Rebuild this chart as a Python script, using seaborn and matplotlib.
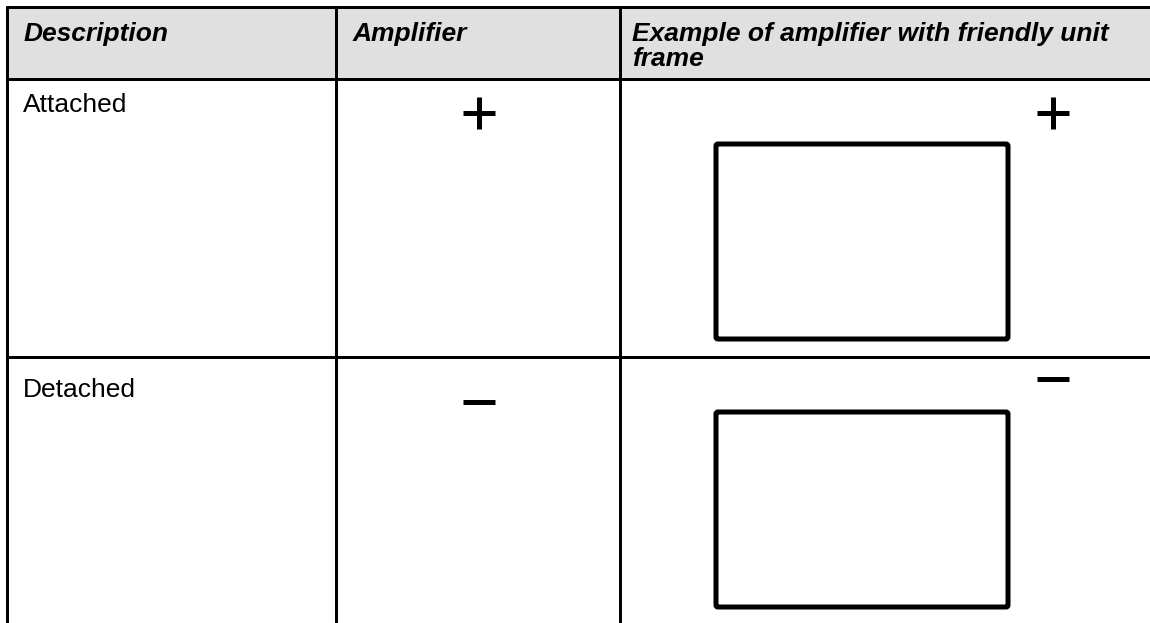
import matplotlib
matplotlib.use("Agg")
import matplotlib.pyplot as plt
import matplotlib.patches as mpatches
import seaborn as sns

# table content
headers = ["Description", "Amplifier", "Example of amplifier with friendly unit\nframe"]
descriptions = ["Attached", "Detached"]
amplifiers = ["+", "-"]

W, H = 1150, 623
col_x = [7, 336, 620]
row_y = [7, 79, 357]
header_bg = "#e0e0e0"

sns.set_theme(style="white")
plt.rcParams["font.family"] = ["Liberation Sans", "DejaVu Sans"]

fig = plt.figure(figsize=(W / 100, H / 100), dpi=100)
ax = fig.add_axes([0, 0, 1, 1])
ax.set_xlim(0, W)
ax.set_ylim(H, 0)
ax.axis("off")

px = 0.72  # pixel -> points at 100 dpi

# header background
ax.add_patch(mpatches.Rectangle((col_x[0], row_y[0]), W - col_x[0], row_y[1] - row_y[0],
                                facecolor=header_bg, edgecolor="none", zorder=0))

# grid lines (table runs off the right and bottom edges)
for x in col_x:
    ax.plot([x, x], [row_y[0] - 1.5, H], color="black", lw=3 * px, solid_capstyle="butt")
for y in row_y:
    ax.plot([col_x[0] - 1.5, W], [y, y], color="black", lw=3 * px, solid_capstyle="butt")

# header text
pad = [17, 17, 12]
for x, p, txt in zip(col_x, pad, headers):
    ax.text(x + p, row_y[0] + 15, txt, fontsize=19, fontweight="bold", fontstyle="italic",
            va="top", ha="left", color="black", linespacing=1.05)

# descriptions
desc_base = [33, 40]
for y, b, txt in zip(row_y[1:], desc_base, descriptions):
    ax.text(col_x[0] + 16, y + b, txt, fontsize=19, va="baseline", ha="left", color="black")


def draw_sign(cx, cy, sign, half=16, lw=5):
    ax.plot([cx - half, cx + half], [cy, cy], color="black", lw=lw * px, solid_capstyle="butt")
    if sign == "+":
        ax.plot([cx, cx], [cy - half, cy + half], color="black", lw=lw * px, solid_capstyle="butt")


sign_y2 = [113, 402]   # amplifier column
sign_y3 = [113, 379]   # example column
rect_top = [144, 412]
for i, sign in enumerate(amplifiers):
    draw_sign(479, sign_y2[i], sign)
    draw_sign(1053, sign_y3[i], sign)
    ax.add_patch(mpatches.FancyBboxPatch((716, rect_top[i]), 292, 195,
                                         boxstyle="round,pad=0,rounding_size=2",
                                         facecolor="none", edgecolor="black", lw=5 * px))

fig.savefig("out.png", dpi=100, facecolor="white")
